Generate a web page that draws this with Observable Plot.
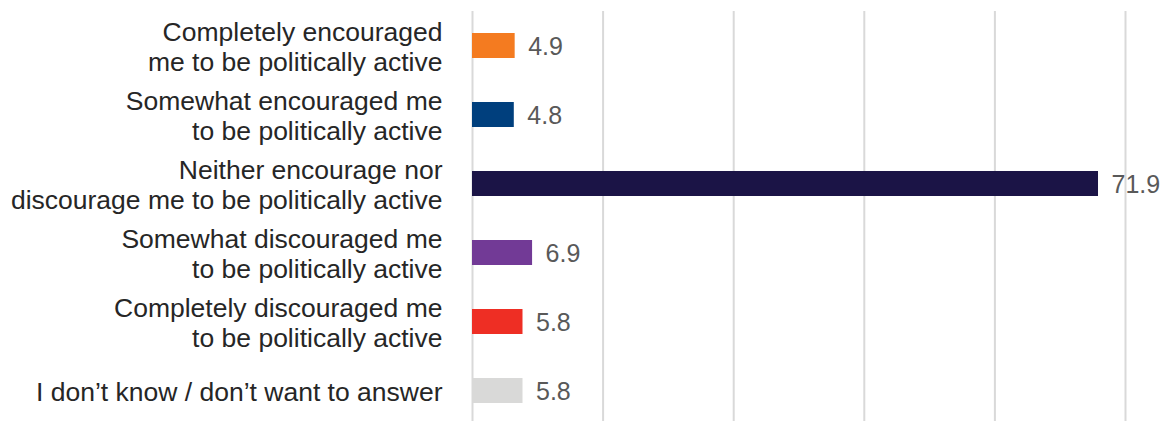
<!DOCTYPE html>
<html>
<head>
<meta charset="utf-8">
<script src="https://cdn.jsdelivr.net/npm/d3@7"></script>
<script src="https://cdn.jsdelivr.net/npm/@observablehq/plot@0.6"></script>
<style>
  html, body { margin: 0; padding: 0; background: #ffffff; }
  #chart { width: 1162px; height: 421px; }
</style>
</head>
<body>
<div id="chart"></div>
<script>
const categories = [
  "Completely encouraged\nme to be politically active",
  "Somewhat encouraged me\nto be politically active",
  "Neither encourage nor\ndiscourage me to be politically active",
  "Somewhat discouraged me\nto be politically active",
  "Completely discouraged me\nto be politically active",
  "I don\u2019t know / don\u2019t want to answer"
];
const values = [4.9, 4.8, 71.9, 6.9, 5.8, 5.8];
const colors = ["#F47B20", "#003F7D", "#1B1446", "#723A96", "#EE2E24", "#D9D9D8"];
const gridTicks = [0, 15, 30, 45, 60, 75];

const data = categories.map((c, i) => ({category: c, value: values[i], color: colors[i]}));

const chart = Plot.plot({
  width: 1162,
  height: 421,
  marginLeft: 472,
  marginRight: 37,
  marginTop: 11,
  marginBottom: 0,
  x: {domain: [0, 75], axis: null},
  y: {domain: categories, range: [10.35, 426.15], paddingInner: 0.644, paddingOuter: 0.322, axis: null},
  color: {type: "identity"},
  style: {fontFamily: "'Liberation Sans', Arial, sans-serif", background: "#ffffff"},
  marks: [
    Plot.ruleX(gridTicks, {x: d => d, stroke: "#d9d9d9", strokeWidth: 2}),
    Plot.barX(data, {x: "value", y: "category", fill: "color"}),
    Plot.text(data, {x: "value", y: "category", text: d => d.value.toFixed(1), textAnchor: "start", dx: 13, dy: 1, fontSize: 25, fill: "#595959"}),
    Plot.text(data, {x: 0, y: "category", text: "category", textAnchor: "end", dx: -30, dy: 0, fontSize: 26.5, lineHeight: 1.13, fill: "#262626"})
  ]
});
document.getElementById("chart").appendChild(chart);
</script>
</body>
</html>
